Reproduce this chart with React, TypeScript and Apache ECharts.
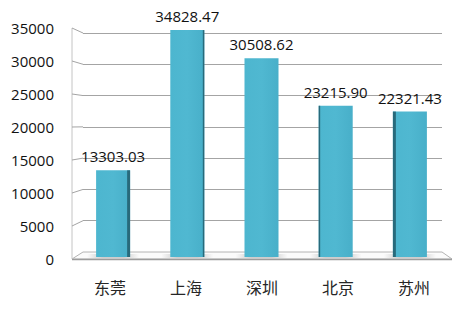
import React, { useEffect, useRef } from "react";
import * as echarts from "echarts";

const categories = ["东莞", "上海", "深圳", "北京", "苏州"];
const values = [13303.03, 34828.47, 30508.62, 23215.9, 22321.43];
const yMin = 0;
const yMax = 35000;
const yStep = 5000;

const W = 472;
const H = 315;
// layout of the pseudo-3D planes (pixels)
const FRONT = { left: 72, right: 452, top: 28, bottom: 259 };
const BACK = { left: 83, right: 442, top: 33, bottom: 252 };
const BARS = { left: 76, right: 447, top: 29, bottom: 257 };

const gridOf = (r: { left: number; right: number; top: number; bottom: number }) => ({
  left: r.left,
  right: W - r.right,
  top: r.top,
  bottom: H - r.bottom,
});

export default function App() {
  const ref = useRef<HTMLDivElement>(null);
  useEffect(() => {
    if (!ref.current) return;
    const chart = echarts.init(ref.current, null, { renderer: "svg" });
    const valueAxisBase = {
      type: "value" as const,
      min: yMin,
      max: yMax,
      interval: yStep,
      axisTick: { show: false },
      axisLine: { show: false },
    };
    chart.setOption({
      animation: false,
      backgroundColor: "#ffffff",
      grid: [gridOf(FRONT), gridOf(BACK), gridOf(BARS)],
      xAxis: [
        {
          gridIndex: 0,
          type: "category",
          data: categories,
          axisLine: { show: false },
          axisTick: { show: false },
          axisLabel: {
            fontSize: 16,
            color: "#262626",
            margin: 20,
            fontFamily: "Noto Sans CJK SC",
          },
        },
        { gridIndex: 1, type: "category", data: categories, show: false },
        { gridIndex: 2, type: "category", data: categories, show: false },
      ],
      yAxis: [
        {
          ...valueAxisBase,
          gridIndex: 0,
          axisLabel: {
            fontSize: 15,
            color: "#111111",
            margin: 18,
            fontFamily: "Open Sans",
            formatter: (v: number) => String(v),
          },
          splitLine: { show: false },
        },
        {
          ...valueAxisBase,
          gridIndex: 1,
          axisLabel: { show: false },
          splitLine: { show: true, lineStyle: { color: "#A4A4A4", width: 1 } },
        },
        { ...valueAxisBase, gridIndex: 2, show: false },
      ],
      series: [
        {
          type: "custom",
          xAxisIndex: 2,
          yAxisIndex: 2,
          z: 5,
          data: values.map((v, i) => [i, v]),
          renderItem: (params: any, api: any) => {
            const idx = api.value(0);
            const v = api.value(1);
            const top = api.coord([idx, v]);
            const base = api.coord([idx, 0]);
            const bw = 34;
            const cx = top[0];
            const x0 = cx - bw / 2;
            const cs = params.coordSys;
            const center = cs.x + cs.width / 2;
            const dx = cx - center;
            const side = Math.min(3, Math.abs(dx) * 0.02);
            const h = base[1] - top[1];
            const children: any[] = [
              {
                type: "rect",
                shape: { x: x0 - 9, y: base[1] - 3, width: bw + 18, height: 4 },
                style: {
                  fill: new echarts.graphic.LinearGradient(0, 0, 1, 0, [
                    { offset: 0, color: "rgba(120,120,120,0)" },
                    { offset: 0.3, color: "rgba(120,120,120,0.35)" },
                    { offset: 0.7, color: "rgba(120,120,120,0.35)" },
                    { offset: 1, color: "rgba(120,120,120,0)" },
                  ]),
                },
              },
              {
                type: "rect",
                shape: { x: x0, y: top[1], width: bw, height: h },
                style: {
                  fill: new echarts.graphic.LinearGradient(0, 0, 1, 0, [
                    { offset: 0, color: "#4DB6CF" },
                    { offset: 0.5, color: "#50B8D1" },
                    { offset: 1, color: "#48AFC9" },
                  ]),
                },
              },
            ];
            if (side >= 0.5) {
              const sx = dx < 0 ? x0 + bw - side : x0;
              children.push({
                type: "rect",
                shape: { x: sx, y: top[1], width: side, height: h },
                style: { fill: "#286A7B" },
              });
            }
            children.push({
              type: "text",
              style: {
                text: v.toFixed(2),
                x: cx,
                y: top[1] - 14,
                align: "center",
                verticalAlign: "middle",
                fontSize: 15,
                fontFamily: "Open Sans",
                fill: "#111111",
              },
            });
            return { type: "group", children };
          },
        },
      ],
    });

    // decorative wall/floor, placed with the axes' own scales
    const yF = (v: number) => chart.convertToPixel({ yAxisIndex: 0 }, v) as number;
    const yB = (v: number) => chart.convertToPixel({ yAxisIndex: 1 }, v) as number;
    const graphics: any[] = [];
    graphics.push({
      type: "polygon",
      z: 1,
      shape: {
        points: [
          [FRONT.left, yF(yMin)],
          [BACK.left, yB(yMin)],
          [BACK.right, yB(yMin)],
          [FRONT.right, yF(yMin)],
        ],
      },
      style: { fill: "#FBFBFB", stroke: "#B4B4B4", lineWidth: 1 },
    });
    graphics.push({
      type: "line",
      z: 1,
      shape: { x1: FRONT.left, y1: yF(yMin) + 0.5, x2: FRONT.right, y2: yF(yMin) + 0.5 },
      style: { stroke: "#9C9C9C", lineWidth: 1.5 },
    });
    graphics.push({
      type: "line",
      z: 1,
      shape: { x1: FRONT.left, y1: yF(yMax), x2: FRONT.left, y2: yF(yMin) },
      style: { stroke: "#C4C4C4", lineWidth: 1 },
    });
    for (let v = yMin + yStep; v <= yMax; v += yStep) {
      graphics.push({
        type: "line",
        z: 1,
        shape: { x1: FRONT.left, y1: yF(v), x2: BACK.left, y2: yB(v) },
        style: { stroke: "#A4A4A4", lineWidth: 1 },
      });
    }
    chart.setOption({ graphic: graphics });

    return () => chart.dispose();
  }, []);
  return (
    <div
      ref={ref}
      style={{ position: "absolute", left: 0, top: 0, width: W, height: H }}
    />
  );
}
